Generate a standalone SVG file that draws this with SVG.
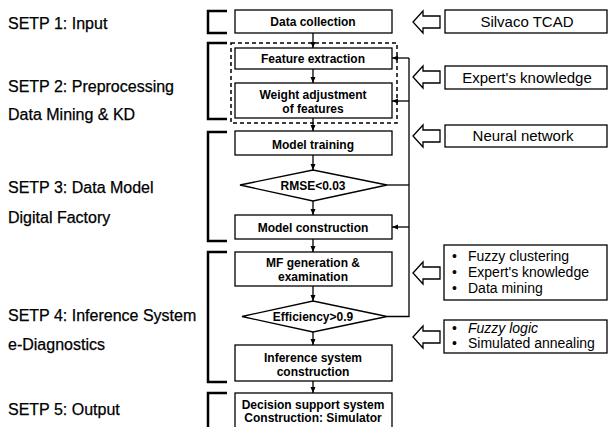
<svg xmlns="http://www.w3.org/2000/svg" width="610" height="427" viewBox="0 0 610 427">
<defs>
<marker id="ah" markerUnits="userSpaceOnUse" markerWidth="6" markerHeight="6" refX="6" refY="3" orient="auto">
<path d="M0,0.5 L6,3 L0,5.5 z" fill="#000"/>
</marker>
</defs>
<style>
.box{fill:#fff;stroke:#000;stroke-width:1.3}
.br{fill:none;stroke:#000;stroke-width:2.5}
.bt{font-family:"Liberation Sans",Arial,sans-serif;font-size:12px;font-weight:bold;text-anchor:middle;fill:#000}
.lt{font-family:"Liberation Sans",Arial,sans-serif;font-size:16px;fill:#000;stroke:#000;stroke-width:0.25}
.rt{font-family:"Liberation Sans",Arial,sans-serif;font-size:15px;text-anchor:middle;fill:#000}
.bl{font-family:"Liberation Sans",Arial,sans-serif;font-size:14px;fill:#000}
.ha{fill:#fff;stroke:#000;stroke-width:1.3}
.c{fill:none;stroke:#000;stroke-width:1.3}
</style>
<rect width="610" height="427" fill="#fff"/>

<g id="labels">
<text class="lt" x="8" y="29">SETP 1: Input</text>
<text class="lt" x="8" y="92">SETP 2: Preprocessing</text>
<text class="lt" x="8" y="120">Data Mining &amp; KD</text>
<text class="lt" x="8" y="193">SETP 3: Data Model</text>
<text class="lt" x="8" y="223">Digital Factory</text>
<text class="lt" x="8" y="321">SETP 4: Inference System</text>
<text class="lt" x="8" y="350">e-Diagnostics</text>
<text class="lt" x="8" y="415">SETP 5: Output</text>
</g>

<g id="brackets">
<path class="br" d="M227,11 H208 V33 H227"/>
<path class="br" d="M227,43 H208 V119 H227"/>
<path class="br" d="M227,132 H208 V241 H227"/>
<path class="br" d="M227,252 H208 V382 H227"/>
<path class="br" d="M227,393 H208 V432"/>
</g>

<g id="preprocessing-group">
<rect x="231" y="43" width="166" height="80" fill="none" stroke="#000" stroke-width="1.5" stroke-dasharray="4,3"/>
</g>

<g id="connectors">
<line class="c" x1="313" y1="33" x2="313" y2="48" marker-end="url(#ah)"/>
<line class="c" x1="313" y1="69" x2="313" y2="83" marker-end="url(#ah)"/>
<line class="c" x1="313" y1="118" x2="313" y2="131" marker-end="url(#ah)"/>
<line class="c" x1="313" y1="155" x2="313" y2="170" marker-end="url(#ah)"/>
<line class="c" x1="313" y1="201" x2="313" y2="215" marker-end="url(#ah)"/>
<line class="c" x1="313" y1="239" x2="313" y2="252" marker-end="url(#ah)"/>
<line class="c" x1="313" y1="286" x2="313" y2="301" marker-end="url(#ah)"/>
<line class="c" x1="313" y1="332" x2="313" y2="345" marker-end="url(#ah)"/>
<line class="c" x1="313" y1="381" x2="313" y2="393" marker-end="url(#ah)"/>
<path class="c" d="M387,316.5 H409 V58"/>
<line class="c" x1="409" y1="58" x2="392" y2="58" marker-end="url(#ah)"/>
<line class="c" x1="409" y1="101" x2="392" y2="101" marker-end="url(#ah)"/>
<line class="c" x1="387" y1="185" x2="409" y2="185"/>
<line class="c" x1="409" y1="227" x2="392" y2="227" marker-end="url(#ah)"/>
</g>

<g id="data-collection">
<rect class="box" x="235" y="10" width="157" height="23"/>
<text class="bt" x="313" y="25.5">Data collection</text>
</g>
<g id="feature-extraction">
<rect class="box" x="235" y="48" width="157" height="21"/>
<text class="bt" x="313" y="62.5">Feature extraction</text>
</g>
<g id="weight-adjustment">
<rect class="box" x="235" y="83" width="157" height="35"/>
<text class="bt" x="313" y="99">Weight adjustment</text>
<text class="bt" x="313" y="112.5">of features</text>
</g>
<g id="model-training">
<rect class="box" x="235" y="131" width="157" height="24"/>
<text class="bt" x="313" y="149">Model training</text>
</g>
<g id="rmse">
<polygon class="box" points="240,185 313,170 387,185 313,201"/>
<text class="bt" x="313" y="189.5">RMSE&lt;0.03</text>
</g>
<g id="model-construction">
<rect class="box" x="235" y="215" width="157" height="24"/>
<text class="bt" x="313" y="231.5">Model construction</text>
</g>
<g id="mf-generation">
<rect class="box" x="235" y="252" width="157" height="34"/>
<text class="bt" x="313" y="267">MF generation &amp;</text>
<text class="bt" x="313" y="281">examination</text>
</g>
<g id="efficiency">
<polygon class="box" points="242,316.5 313,301 387,316.5 313,332"/>
<text class="bt" x="313" y="321">Efficiency&gt;0.9</text>
</g>
<g id="inference-system">
<rect class="box" x="235" y="345" width="157" height="36"/>
<text class="bt" x="313" y="362">Inference system</text>
<text class="bt" x="313" y="375.5">construction</text>
</g>
<g id="decision-support">
<rect class="box" x="235" y="393" width="157" height="40"/>
<text class="bt" x="313" y="409">Decision support system</text>
<text class="bt" x="313" y="421.5">Construction: Simulator</text>
</g>

<g id="silvaco">
<path class="ha" d="M413,22 L423,11 L423,16 L440,16 L440,28 L423,28 L423,33 Z"/>
<rect class="box" x="445" y="10" width="162" height="23"/>
<text class="rt" x="527" y="27">Silvaco TCAD</text>
</g>
<g id="expert">
<path class="ha" d="M413,77 L423,66 L423,71 L440,71 L440,83 L423,83 L423,88 Z"/>
<rect class="box" x="445" y="66" width="162" height="23"/>
<text class="rt" x="527" y="83">Expert's knowledge</text>
</g>
<g id="neural">
<path class="ha" d="M413,136 L423,125 L423,130 L440,130 L440,142 L423,142 L423,147 Z"/>
<rect class="box" x="445" y="125" width="162" height="22"/>
<text class="rt" x="523" y="141">Neural network</text>
</g>
<g id="mf-sources">
<path class="ha" d="M413,273 L423,262 L423,267 L440,267 L440,279 L423,279 L423,284 Z"/>
<rect class="box" x="444" y="245" width="163" height="55"/>
<text class="bl" x="452" y="261">•</text><text class="bl" x="468" y="261">Fuzzy clustering</text>
<text class="bl" x="452" y="277">•</text><text class="bl" x="468" y="277">Expert's knowledge</text>
<text class="bl" x="452" y="293">•</text><text class="bl" x="468" y="293">Data mining</text>
</g>
<g id="inference-sources">
<path class="ha" d="M413,337 L423,326 L423,331 L440,331 L440,343 L423,343 L423,348 Z"/>
<rect class="box" x="444" y="320" width="163" height="33"/>
<text class="bl" x="452" y="333">•</text><text class="bl" x="468" y="333" font-style="italic">Fuzzy logic</text>
<text class="bl" x="452" y="348">•</text><text class="bl" x="468" y="348">Simulated annealing</text>
</g>
</svg>
